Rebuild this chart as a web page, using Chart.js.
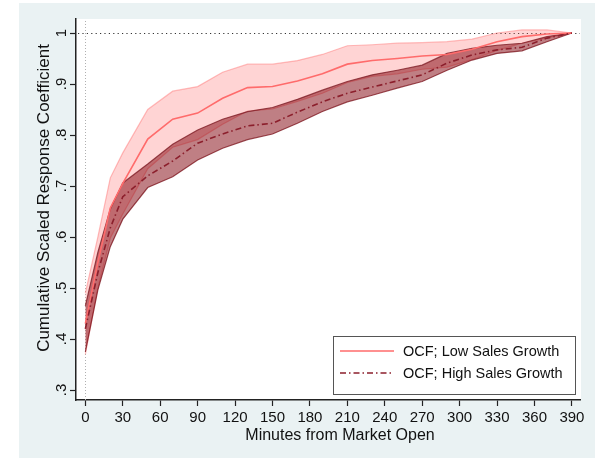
<!DOCTYPE html>
<html>
<head>
<meta charset="utf-8">
<script src="https://cdn.jsdelivr.net/npm/chart.js@4.4.0/dist/chart.umd.min.js"></script>
<style>
  body { margin: 0; background: #fff; }
  canvas { display: block; }
</style>
</head>
<body>
<canvas id="myChart" width="599" height="460"></canvas>
<script>
    // data
    const minutes = [0, 10, 20, 30, 50, 70, 90, 110, 130, 150, 170, 190, 210, 230, 250, 270, 290, 310, 330, 350, 370, 390];

    const lowMean  = [0.43, 0.55, 0.657, 0.705, 0.792, 0.831, 0.843, 0.872, 0.893, 0.895, 0.906, 0.92, 0.939, 0.946, 0.95, 0.955, 0.958, 0.968, 0.983, 0.993, 0.998, 1.0];
    const lowUpper = [0.49, 0.60, 0.716, 0.765, 0.85, 0.886, 0.895, 0.923, 0.939, 0.939, 0.946, 0.958, 0.975, 0.977, 0.98, 0.981, 0.983, 0.988, 1.0, 1.006, 1.006, 1.0];
    const lowLower = [0.37, 0.50, 0.598, 0.645, 0.734, 0.776, 0.791, 0.821, 0.847, 0.851, 0.866, 0.882, 0.903, 0.915, 0.92, 0.929, 0.933, 0.948, 0.966, 0.98, 0.99, 1.0];

    const highMean  = [0.42, 0.53, 0.618, 0.679, 0.72, 0.749, 0.784, 0.802, 0.818, 0.823, 0.845, 0.865, 0.882, 0.894, 0.906, 0.918, 0.941, 0.957, 0.967, 0.972, 0.99, 1.0];
    const highUpper = [0.465, 0.57, 0.655, 0.706, 0.743, 0.782, 0.81, 0.831, 0.846, 0.854, 0.87, 0.888, 0.905, 0.918, 0.927, 0.937, 0.96, 0.97, 0.976, 0.98, 0.993, 1.0];
    const highLower = [0.375, 0.496, 0.581, 0.635, 0.697, 0.718, 0.751, 0.774, 0.791, 0.802, 0.823, 0.846, 0.865, 0.878, 0.892, 0.905, 0.927, 0.947, 0.96, 0.965, 0.983, 1.0];

    const xTicks = [0, 30, 60, 90, 120, 150, 180, 210, 240, 270, 300, 330, 360, 390];
    const yTicks = [0.3, 0.4, 0.5, 0.6, 0.7, 0.8, 0.9, 1];
    const yTickLabels = ['.3', '.4', '.5', '.6', '.7', '.8', '.9', '1'];

    const FONT = "'Liberation Sans', Arial, sans-serif";
    const pts = (arr) => arr.map((v, i) => ({ x: minutes[i], y: v }));

    const data = {
      datasets: [
        {
          label: 'low upper',
          data: pts(lowUpper),
          borderColor: 'rgba(255,110,110,0.45)',
          borderWidth: 1.2,
          backgroundColor: 'rgba(255,100,100,0.28)',
          fill: '+1',
          order: 5,
        },
        {
          label: 'low lower',
          data: pts(lowLower),
          borderColor: 'rgba(255,110,110,0.45)',
          borderWidth: 1.2,
          fill: false,
          order: 5,
        },
        {
          label: 'high upper',
          data: pts(highUpper),
          borderColor: 'rgba(120,20,30,0.75)',
          borderWidth: 1.2,
          backgroundColor: 'rgba(128,0,10,0.5)',
          fill: '+1',
          order: 3,
        },
        {
          label: 'high lower',
          data: pts(highLower),
          borderColor: 'rgba(120,20,30,0.75)',
          borderWidth: 1.2,
          fill: false,
          order: 3,
        },
        {
          label: 'OCF; Low Sales Growth',
          data: pts(lowMean),
          borderColor: '#ff6b6b',
          borderWidth: 1.6,
          fill: false,
          order: 1,
        },
        {
          label: 'OCF; High Sales Growth',
          data: pts(highMean),
          borderColor: '#8c1f2c',
          borderWidth: 1.6,
          borderDash: [6, 3, 1.5, 3],
          fill: false,
          order: 0,
        },
      ],
    };

    // backgrounds, reference lines, rotated y labels, titles and the legend box
    const stataLook = {
      id: 'stataLook',
      beforeDraw(chart) {
        const { ctx, chartArea: { left, right, top, bottom } } = chart;
        ctx.save();
        ctx.fillStyle = '#ffffff';
        ctx.fillRect(0, 0, chart.width, chart.height);
        ctx.fillStyle = '#eaf2f3';
        ctx.fillRect(19, 3, 576, 455);
        ctx.fillStyle = '#ffffff';
        ctx.fillRect(left, top, right - left + 1, bottom - top);
        ctx.restore();
      },
      beforeDatasetsDraw(chart) {
        const { ctx, chartArea: { left, right, top, bottom }, scales: { x, y } } = chart;
        ctx.save();
        // dotted line at 1
        ctx.strokeStyle = '#333';
        ctx.lineWidth = 1;
        ctx.setLineDash([1.2, 3.2]);
        const y1 = Math.round(y.getPixelForValue(1)) + 0.5;
        ctx.beginPath();
        ctx.moveTo(left + 2, y1);
        ctx.lineTo(right, y1);
        ctx.stroke();
        // dotted line at minute 0
        ctx.strokeStyle = '#b0b0b0';
        ctx.setLineDash([1, 2]);
        const x0 = Math.round(x.getPixelForValue(0)) + 0.5;
        ctx.beginPath();
        ctx.moveTo(x0, top + 2);
        ctx.lineTo(x0, bottom);
        ctx.stroke();
        ctx.restore();
      },
      afterDraw(chart) {
        const { ctx, scales: { y } } = chart;
        ctx.save();
        ctx.fillStyle = '#111';
        ctx.textAlign = 'center';
        ctx.textBaseline = 'middle';
        ctx.font = '15px ' + FONT;
        yTicks.forEach((v, i) => {
          ctx.save();
          ctx.translate(62, y.getPixelForValue(v));
          ctx.rotate(-Math.PI / 2);
          ctx.fillText(yTickLabels[i], 0, 0);
          ctx.restore();
        });
        // axis titles
        ctx.font = '17px ' + FONT;
        ctx.save();
        ctx.translate(44, 198);
        ctx.rotate(-Math.PI / 2);
        ctx.fillText('Cumulative Scaled Response Coefficient', 0, 0);
        ctx.restore();
        ctx.font = '16px ' + FONT;
        ctx.fillText('Minutes from Market Open', 340, 436);

        // legend
        ctx.fillStyle = '#ffffff';
        ctx.fillRect(333, 336, 242, 58);
        ctx.strokeStyle = '#555';
        ctx.lineWidth = 1;
        ctx.strokeRect(333.5, 336.5, 242, 58);
        const entries = [chart.data.datasets[4], chart.data.datasets[5]];
        const rowY = [351, 373];
        ctx.font = '14.5px ' + FONT;
        ctx.textAlign = 'left';
        entries.forEach((ds, i) => {
          ctx.strokeStyle = ds.borderColor;
          ctx.lineWidth = ds.borderWidth;
          ctx.setLineDash(ds.borderDash || []);
          ctx.beginPath();
          ctx.moveTo(340, rowY[i]);
          ctx.lineTo(394, rowY[i]);
          ctx.stroke();
          ctx.setLineDash([]);
          ctx.fillStyle = '#111';
          ctx.fillText(ds.label, 403, rowY[i] + 1);
        });
        ctx.restore();
      },
    };

    // config
    const config = {
      type: 'line',
      data,
      options: {
        responsive: false,
        animation: false,
        devicePixelRatio: 1,
        layout: { padding: { left: 0, top: 19, right: 19, bottom: 0 } },
        elements: {
          point: { radius: 0 },
          line: { tension: 0 },
        },
        plugins: {
          legend: { display: false },
          tooltip: { enabled: false },
          filler: { propagate: false },
        },
        scales: {
          x: {
            type: 'linear',
            min: -7.5,
            max: 396.5,
            afterFit(scale) { scale.height = 60; },
            afterBuildTicks(scale) { scale.ticks = xTicks.map(v => ({ value: v })); },
            border: { display: true, color: '#222', width: 1.5 },
            grid: { drawOnChartArea: false, drawTicks: true, tickLength: 6, tickColor: '#222', tickWidth: 1.2 },
            ticks: {
              color: '#111',
              font: { family: FONT, size: 15 },
              padding: 3,
              maxRotation: 0,
              autoSkip: false,
            },
          },
          y: {
            type: 'linear',
            min: 0.2804,
            max: 1.0275,
            afterFit(scale) { scale.width = 76; },
            afterBuildTicks(scale) { scale.ticks = yTicks.map(v => ({ value: v })); },
            border: { display: true, color: '#222', width: 1.5 },
            grid: { drawOnChartArea: false, drawTicks: true, tickLength: 6, tickColor: '#222', tickWidth: 1.2 },
            ticks: { display: false },
          },
        },
      },
      plugins: [stataLook],
    };

    // render init block
    const myChart = new Chart(document.getElementById('myChart'), config);
</script>
</body>
</html>
